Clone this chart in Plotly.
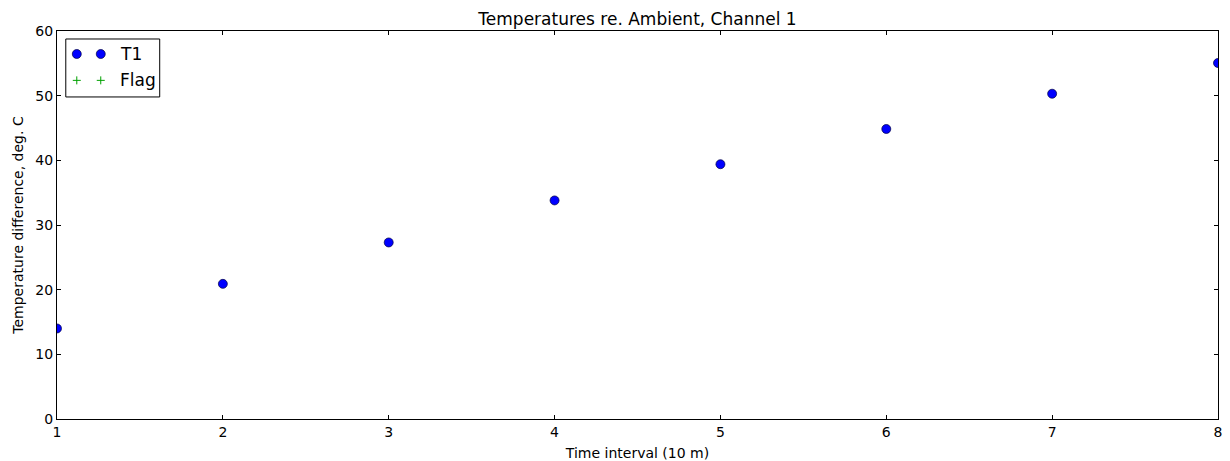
import plotly.graph_objects as go

time_interval = [1, 2, 3, 4, 5, 6, 7, 8]
t1_values = [14.0, 20.9, 27.3, 33.8, 39.4, 44.85, 50.3, 55.05]
flag_x = []
flag_y = []

x_ticks = [1, 2, 3, 4, 5, 6, 7, 8]
y_ticks = [0, 10, 20, 30, 40, 50, 60]
legend_labels = ["T1", "Flag"]

FONT = "DejaVu Sans"
W, H = 1230, 461
ML, MR, MT, MB = 56.5, 11.5, 31.3, 41.5
PW = W - ML - MR
PH = H - MT - MB


def px(x):
    return (x - ML) / PW


def py(y):
    return (H - MB - y) / PH


T1_COLOR = "#0000ff"
FLAG_COLOR = "#00a000"

fig = go.Figure()
fig.add_trace(go.Scatter(
    x=time_interval, y=t1_values, mode="markers", name=legend_labels[0],
    marker=dict(symbol="circle", size=9, color=T1_COLOR,
                line=dict(color="#000040", width=0.7)),
    showlegend=False,
))
fig.add_trace(go.Scatter(
    x=flag_x, y=flag_y, mode="markers", name=legend_labels[1],
    marker=dict(symbol="cross-thin", size=8, color=FLAG_COLOR,
                line=dict(color=FLAG_COLOR, width=1)),
    showlegend=False,
))

# custom matplotlib-style legend (two marker samples per entry)
shapes = [dict(type="rect", xref="paper", yref="paper",
               x0=px(65.3), x1=px(159.3), y0=py(97.3), y1=py(39.3),
               line=dict(color="black", width=1), fillcolor="white", layer="above")]
for sx in (76.3, 100.3):
    shapes.append(dict(type="circle", xref="paper", yref="paper",
                       xsizemode="pixel", ysizemode="pixel",
                       xanchor=px(sx), yanchor=py(54.3),
                       x0=-4.5, x1=4.5, y0=-4.5, y1=4.5,
                       line=dict(color="#000040", width=0.7), fillcolor=T1_COLOR,
                       layer="above"))
    shapes.append(dict(type="line", xref="paper", yref="paper",
                       xsizemode="pixel", ysizemode="pixel",
                       xanchor=px(sx), yanchor=py(80.7),
                       x0=-4, x1=4, y0=0, y1=0,
                       line=dict(color=FLAG_COLOR, width=1), layer="above"))
    shapes.append(dict(type="line", xref="paper", yref="paper",
                       xsizemode="pixel", ysizemode="pixel",
                       xanchor=px(sx), yanchor=py(80.7),
                       x0=0, x1=0, y0=-4, y1=4,
                       line=dict(color=FLAG_COLOR, width=1), layer="above"))

annotations = []
for lbl, yy in zip(legend_labels, (54.3, 80.7)):
    annotations.append(dict(text=lbl, xref="paper", yref="paper",
                            x=px(117.5), y=py(yy), xanchor="left", yanchor="middle",
                            showarrow=False,
                            font=dict(family=FONT, size=17, color="black")))

axis_common = dict(
    showline=True, linecolor="black", linewidth=1, mirror="ticks",
    ticks="inside", ticklen=4, tickcolor="black", tickwidth=1,
    showgrid=False, zeroline=False, automargin=False,
    tickfont=dict(family=FONT, size=14, color="black"),
)

fig.update_layout(
    width=W, height=H,
    margin=dict(l=ML, r=MR, t=MT, b=MB, autoexpand=False),
    paper_bgcolor="white", plot_bgcolor="white",
    title=dict(text="Temperatures re. Ambient, Channel 1", x=0.5, xref="paper",
               xanchor="center", y=1 - 19 / H, yanchor="middle",
               font=dict(family=FONT, size=17, color="black")),
    xaxis=dict(range=[1, 8], tickvals=x_ticks,
               title=dict(text="Time interval (10 m)", standoff=9,
                          font=dict(family=FONT, size=14, color="black")),
               **axis_common),
    yaxis=dict(range=[0, 60], tickvals=y_ticks,
               title=dict(text="Temperature difference, deg. C", standoff=8,
                          font=dict(family=FONT, size=14, color="black")),
               **axis_common),
    shapes=shapes,
    annotations=annotations,
    showlegend=False,
)

fig.write_html("out.html")
